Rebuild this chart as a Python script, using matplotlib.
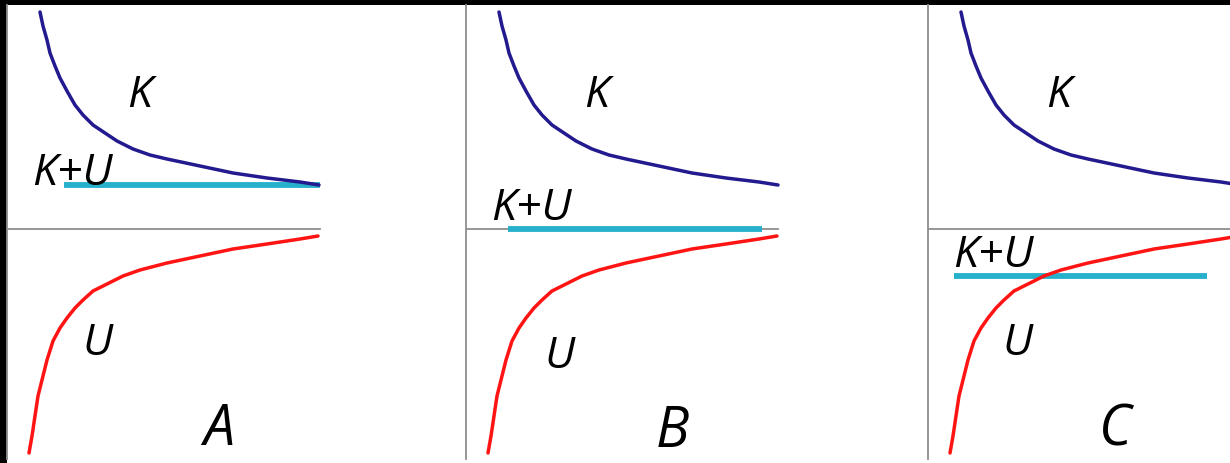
import matplotlib
matplotlib.use("Agg")
import matplotlib.pyplot as plt

W, H = 1230, 463
BG = "black"; AXC = "#8e8e8e"
K_C = "#221a8e"; U_C = "#ff1414"; KU_C = "#27b0cc"

# curves (px from the axes origin, up is positive)
k_x = [33, 36, 40, 43, 48, 53, 60, 68, 76, 86, 98, 110, 126, 143, 160,
       193, 226, 260, 293, 312]
k_y = [217, 203, 189, 176, 163, 151, 138, 124, 114, 104, 96, 88, 80, 74, 70,
       63, 56, 51, 47, 44]
u_x = [22, 25, 28, 31, 36, 40, 46, 53, 60, 68, 76, 86, 100, 116, 133, 160,
       193, 226, 260, 293, 311]
u_y = [-224, -207, -187, -167, -147, -131, -112, -99, -89, -79, -71, -62, -55,
       -47, -41, -34, -27, -20, -15, -10, -7]

panels = ["A", "B", "C"]
ku_level = [44, 0, -47]          # total energy K+U
ku_start = [57, 42, 26]
ku_end = [313, 296, 279]
axis_len = [313, 312, 312]

# label spots
k_lab = [(133, 122), (131, 122), (131, 122)]
u_lab = [(90, -126), (93, -139), (90, -126)]
ku_lab = [(65, 44), (65, 9), (65, -38)]
p_lab = [(212, -216), (206, -218), (187, -216)]
left_px = [7, 466, 928]
width_px = [459, 462, 462]

plt.rcParams["font.family"] = ["Open Sans", "DejaVu Sans"]
fig = plt.figure(figsize=(W / 100, H / 100), dpi=100, facecolor=BG)

top_px = 5
for i, name in enumerate(panels):
    ax = fig.add_axes([left_px[i] / W, 0, width_px[i] / W, (H - top_px) / H])
    ax.set_facecolor("white")
    ax.set_xlim(0, width_px[i])
    ax.set_ylim(-(H - 229), 229 - top_px)
    for s in ("top", "right", "bottom"):
        ax.spines[s].set_visible(False)
    ax.spines["left"].set_color(AXC)
    ax.spines["left"].set_linewidth(1.3)
    ax.spines["left"].set_bounds(-230, 224)
    ax.set_xticks([]); ax.set_yticks([])

    ax.plot([0, axis_len[i]], [0, 0], color=AXC, lw=1.3, zorder=1)
    ax.plot([ku_start[i], ku_end[i]], [ku_level[i], ku_level[i]],
            color=KU_C, lw=4.2, solid_capstyle="butt", zorder=2)
    ax.plot(k_x, k_y, color=K_C, lw=2.5, zorder=3,
            solid_joinstyle="round", solid_capstyle="round")
    ax.plot(u_x, u_y, color=U_C, lw=2.5, zorder=3,
            solid_joinstyle="round", solid_capstyle="round")

    ax.text(*k_lab[i], "K", fontsize=32, style="italic", ha="center", va="baseline", zorder=4)
    ax.text(*u_lab[i], "U", fontsize=32, style="italic", ha="center", va="baseline", zorder=4)
    ax.text(*ku_lab[i], "K+U", fontsize=32, style="italic", ha="center", va="baseline", zorder=4)
    ax.text(*p_lab[i], name, fontsize=40, style="italic", ha="center", va="baseline", zorder=4)

fig.savefig("out.png", dpi=100, facecolor=BG)
